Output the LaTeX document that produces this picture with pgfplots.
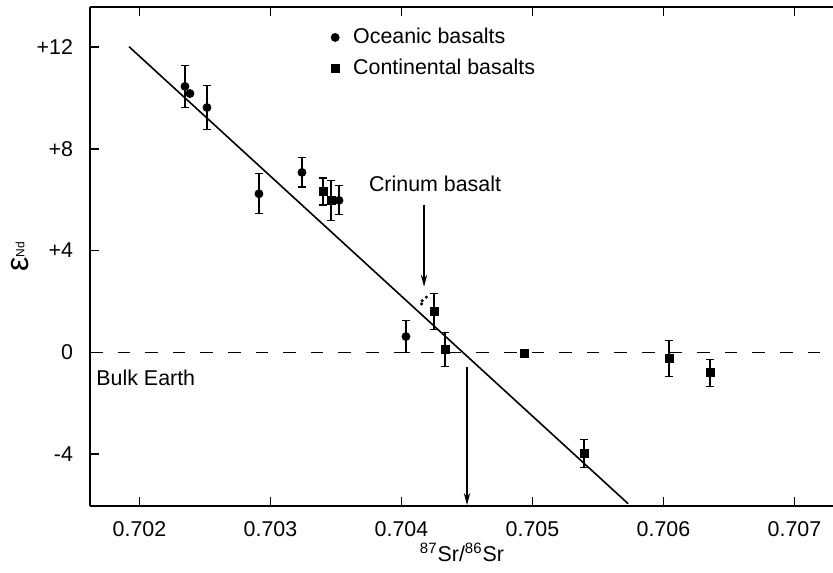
\documentclass[border=0pt]{standalone}
\usepackage{fontspec}
\setmainfont{Liberation Sans}
\usepackage{pgfplots}
\pgfplotsset{compat=1.18}
\usepackage{pgfplotstable}
\usetikzlibrary{arrows.meta}

\pgfplotstableread{
x y e
0.702347 10.45 0.83
0.702385 10.17 0
0.702515 9.62 0.86
0.702912 6.23 0.79
0.703240 7.07 0.57
0.703523 5.97 0.57
0.704034 0.62 0.63
}\oceanic

\pgfplotstableread{
x y e
0.703401 6.32 0.53
0.703462 5.97 0.79
0.704248 1.60 0.71
0.704332 0.11 0.67
0.704935 -0.05 0
0.705393 -3.98 0.55
0.706042 -0.25 0.71
0.706355 -0.80 0.53
}\continental

\begin{document}
\begin{tikzpicture}
\useasboundingbox (-45pt,-33pt) rectangle (371.5pt,253pt);
\begin{axis}[
  at={(0pt,0pt)}, anchor=south west, scale only axis,
  width=371.5pt, height=249.5pt,
  xmin=0.701622, xmax=0.707294, ymin=-6.04, ymax=13.57,
  axis x line=box, axis y line=left,
  x axis line style={-}, y axis line style={-},
  axis line style={line width=0.9pt, black},
  tick align=inside, major tick length=4.5pt,
  tick style={line width=0.8pt, black},
  xtick={0.702,0.703,0.704,0.705,0.706,0.707},
  xticklabels={0.702,0.703,0.704,0.705,0.706,0.707},
  scaled x ticks=false,
  ytick={-4,0,4,8,12},
  yticklabels={-4,0,+4,+8,+12},
  ticklabel style={font=\fontsize{10.7}{12}\selectfont},
  xticklabel style={yshift=-4pt},
  yticklabel style={xshift=-5pt},
  xlabel={\textsuperscript{87}Sr/\textsuperscript{86}Sr},
  xlabel style={at={(axis description cs:0.5007,0)}, anchor=center, yshift=-23pt, font=\fontsize{10.7}{12}\selectfont},
  ylabel={{\fontsize{16}{16}\selectfont ε}\raisebox{2pt}{\fontsize{6}{6}\selectfont Nd}},
  ylabel style={at={(axis description cs:-0.0942,0.5)}, anchor=center},
  legend style={draw=none, fill=none, at={(axis cs:0.70346,12.91)}, anchor=north west,
    font=\fontsize{10.7}{12}\selectfont, row sep=2pt, inner sep=0pt},
  legend cell align=left,
  legend image code/.code={\draw[#1] plot coordinates {(0pt,0pt)}; \path[draw=none, fill=none] (0pt,0pt) -- (7pt,0pt);},
  clip=false,
]
\addplot[forget plot, black, line width=0.7pt, dash pattern=on 6.3pt off 7.5pt]
  coordinates {(0.701622,0) (0.707294,0)};
\addplot[forget plot, black, line width=0.8pt]
  coordinates {(0.70192,12.01) (0.70573,-5.95)};
\addplot[forget plot, only marks, mark=*, mark size=0.55pt, black]
  coordinates {(0.704153,1.90) (0.704158,2.03) (0.704190,2.17)};
\addplot[only marks, mark=*, mark size=2pt, black,
  error bars/.cd, y dir=both, y explicit,
  error bar style={line width=0.6pt, black},
  error mark options={rotate=90, mark size=1.8pt, line width=0.6pt, black}]
  table[x=x, y=y, y error=e] {\oceanic};
\addlegendentry{Oceanic basalts}
\addplot[only marks, mark=square*, mark size=2pt, black,
  error bars/.cd, y dir=both, y explicit,
  error bar style={line width=0.6pt, black},
  error mark options={rotate=90, mark size=1.8pt, line width=0.6pt, black}]
  table[x=x, y=y, y error=e] {\continental};
\addlegendentry{Continental basalts}
\draw[line width=0.6pt, -{Stealth[length=6pt, width=3.2pt]}] (axis cs:0.704172,5.8) -- (axis cs:0.704172,2.58);
\draw[line width=0.6pt, -{Stealth[length=6pt, width=3.2pt]}] (axis cs:0.7045,-0.56) -- (axis cs:0.7045,-6.0);
\node[inner sep=0pt, font=\fontsize{10.7}{12}\selectfont] at (axis cs:0.704256,6.63) {Crinum basalt};
\node[inner sep=0pt, anchor=west, font=\fontsize{10.7}{12}\selectfont] at (axis cs:0.701668,-1.0) {Bulk Earth};
\end{axis}
\end{tikzpicture}
\end{document}
